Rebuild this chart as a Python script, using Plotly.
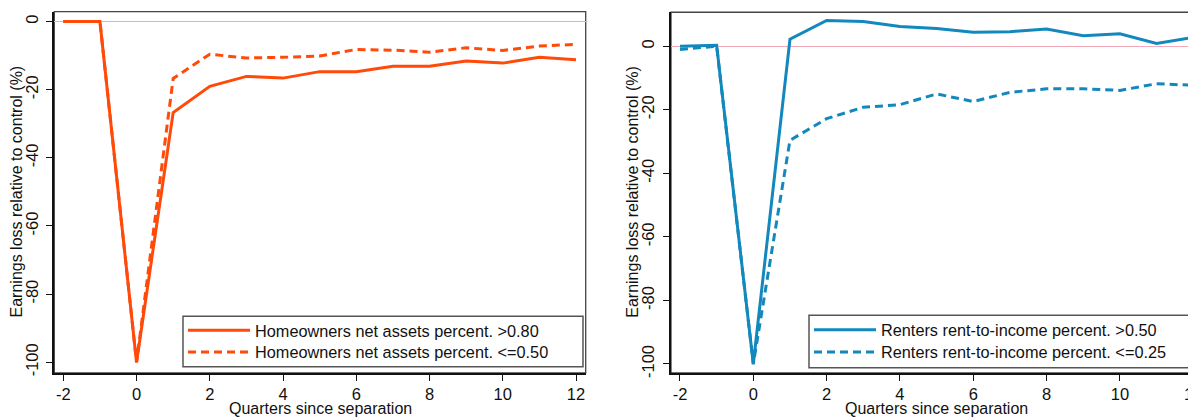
import plotly.graph_objects as go

quarters = [-2, -1, 0, 1, 2, 3, 4, 5, 6, 7, 8, 9, 10, 11, 12]

home_high = [0, 0, -100, -26.7, -19.0, -16.1, -16.6, -14.7, -14.7, -13.1, -13.1, -11.6, -12.2, -10.5, -11.2]
home_low = [0, 0, -100, -16.7, -9.6, -10.7, -10.5, -10.1, -8.2, -8.4, -9.0, -7.7, -8.5, -7.2, -6.7]

rent_high = [0, 0.3, -100, 2.2, 8.1, 7.8, 6.2, 5.6, 4.4, 4.6, 5.4, 3.3, 3.9, 0.9, 2.8]
rent_low = [-1.0, 0, -100, -29.6, -22.8, -19.2, -18.4, -15.0, -17.4, -14.5, -13.4, -13.4, -13.9, -11.8, -12.3]

names_home = ["Homeowners net assets percent. >0.80", "Homeowners net assets percent. <=0.50"]
names_rent = ["Renters rent-to-income percent. >0.50", "Renters rent-to-income percent. <=0.25"]

x_ticks = [-2, 0, 2, 4, 6, 8, 10, 12]
x_ticklabels = ["-2", "0", "2", "4", "6", "8", "10", "12"]
y_ticks = [0, -20, -40, -60, -80, -100]
y_ticklabels = ["0", "-20", "-40", "-60", "-80", "-100"]

ORANGE = "#ff4a0a"
BLUE = "#1288bd"
FONT = "Liberation Sans, Arial, sans-serif"
W, H = 1196, 417
OFF = 8  # page body margin offset

def px_x(p):
    return (p - OFF) / W

def px_y(p):
    return 1 - (p - OFF) / H

fig = go.Figure()
fig.add_trace(go.Scatter(x=quarters, y=home_high, name=names_home[0], mode="lines",
                         line=dict(color=ORANGE, width=3), xaxis="x", yaxis="y", legend="legend"))
fig.add_trace(go.Scatter(x=quarters, y=home_low, name=names_home[1], mode="lines",
                         line=dict(color=ORANGE, width=3, dash="8px,5px"), xaxis="x", yaxis="y", legend="legend2"))
fig.add_trace(go.Scatter(x=quarters, y=rent_high, name=names_rent[0], mode="lines",
                         line=dict(color=BLUE, width=3), xaxis="x2", yaxis="y2", legend="legend3"))
fig.add_trace(go.Scatter(x=quarters, y=rent_low, name=names_rent[1], mode="lines",
                         line=dict(color=BLUE, width=3, dash="8px,5px"), xaxis="x2", yaxis="y2", legend="legend4"))

axis_common = dict(showgrid=False, showline=True, linecolor="#111", linewidth=2,
                   ticks="outside", ticklen=6, tickwidth=1.3, tickcolor="#111",
                   tickfont=dict(family=FONT, size=16.5, color="#111"))

xcommon = dict(tickvals=x_ticks, ticktext=x_ticklabels, zeroline=False, ticklabelstandoff=-1, **axis_common)
ycommon = dict(tickvals=y_ticks, ticktext=y_ticklabels, tickangle=-90, zeroline=True,
               zerolinecolor="#f4a9b9", zerolinewidth=1.2, ticklabelstandoff=2, **axis_common)

leg_font = dict(family=FONT, size=16.3, color="#111")

def leg(xp, yp):
    return dict(x=px_x(xp), y=px_y(yp), xanchor="left", yanchor="middle",
                bgcolor="rgba(0,0,0,0)", borderwidth=0, font=leg_font, itemwidth=62)

fig.update_layout(
    width=W, height=H,
    margin=dict(l=0, r=0, t=0, b=0),
    paper_bgcolor="white", plot_bgcolor="white",
    font=dict(family=FONT, size=15, color="#111"),
    xaxis=dict(domain=[px_x(54.3), px_x(585.7)], range=[-2.246, 12.265], anchor="y", **xcommon),
    yaxis=dict(domain=[px_y(377.3), px_y(11.7)], range=[-103.1, 2.9], anchor="x", **ycommon),
    xaxis2=dict(domain=[px_x(671), px_x(1202)], range=[-2.245, 12.24], anchor="y2", **xcommon),
    yaxis2=dict(domain=[px_y(377.3), px_y(12.3)], range=[-102.8, 10.7], anchor="x2", **ycommon),
    legend=leg(183, 334.5),
    legend2=leg(183, 356.7),
    legend3=leg(809, 334),
    legend4=leg(809, 356.7),
    showlegend=True,
)

# frame lines around plot regions
fig.add_shape(type="rect", xref="x domain", yref="y domain", x0=0, x1=1, y0=0, y1=1,
              line=dict(color="#444", width=1.3), layer="below")
fig.add_shape(type="rect", xref="x2 domain", yref="y2 domain", x0=0, x1=1, y0=0, y1=1,
              line=dict(color="#444", width=1.3), layer="below")

# legend boxes
fig.add_shape(type="rect", xref="paper", yref="paper",
              x0=px_x(183), x1=px_x(583), y0=px_y(371), y1=px_y(320),
              line=dict(color="#555", width=1.5), fillcolor="white", layer="above")
fig.add_shape(type="rect", xref="paper", yref="paper",
              x0=px_x(809), x1=px_x(1210), y0=px_y(372), y1=px_y(319),
              line=dict(color="#555", width=1.5), fillcolor="white", layer="above")

# axis titles
title_font = dict(family=FONT, size=16, color="#111")
fig.add_annotation(text="Quarters since separation", xref="paper", yref="paper",
                   x=px_x(320), y=px_y(413), showarrow=False, font=title_font,
                   xanchor="center", yanchor="middle")
fig.add_annotation(text="Quarters since separation", xref="paper", yref="paper",
                   x=px_x(936), y=px_y(413), showarrow=False, font=title_font,
                   xanchor="center", yanchor="middle")
fig.add_annotation(text="Earnings loss relative to control (%)", xref="paper", yref="paper",
                   x=px_x(16.7), y=px_y(194), showarrow=False, font=title_font, textangle=-90,
                   xanchor="center", yanchor="middle")
fig.add_annotation(text="Earnings loss relative to control (%)", xref="paper", yref="paper",
                   x=px_x(633), y=px_y(194), showarrow=False, font=title_font, textangle=-90,
                   xanchor="center", yanchor="middle")

fig.write_html("out.html")
